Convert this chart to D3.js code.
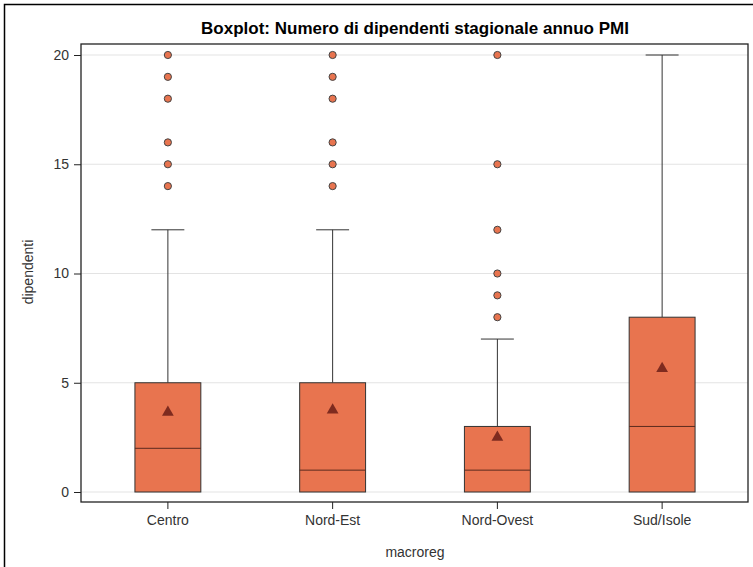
<!DOCTYPE html>
<html><head><meta charset="utf-8">
<script src="https://cdn.jsdelivr.net/npm/d3@7"></script>
<style>body{margin:0;background:#fff}svg{display:block}</style>
</head><body>
<script>
const categories = ["Centro", "Nord-Est", "Nord-Ovest", "Sud/Isole"];
const q1Values = [0, 0, 0, 0];
const medianValues = [2, 1, 1, 3];
const q3Values = [5, 5, 3, 8];
const whiskerLow = [0, 0, 0, 0];
const whiskerHigh = [12, 12, 7, 20];
const meanValues = [3.65, 3.75, 2.5, 5.65];
const outliers = [
  [14, 15, 16, 18, 19, 20],
  [14, 15, 16, 18, 19, 20],
  [8, 9, 10, 12, 15, 20],
  []
];
const yTicks = [0, 5, 10, 15, 20];

const W = 753, H = 567;
const FONT = "Arial, 'Liberation Sans', sans-serif";
const svg = d3.select("body").append("svg").attr("width", W).attr("height", H);
const fr = {l: 81, t: 44, r: 748, b: 502};
const x = d3.scaleBand().domain(categories).range([85.5, 744.5]).paddingInner(0).paddingOuter(0);
const y = d3.scaleLinear().domain([0, 20]).range([492, 55]);
const fill = "#E8744F", stroke = "#333", meanCol = "#7E2B1F";

// outer frame
svg.append("path").attr("d", `M4.5,${H} V4.5 H${W}`).attr("fill", "none").attr("stroke", "#000").attr("stroke-width", 1.5);

// grid
svg.append("g").selectAll("line").data(yTicks).join("line")
  .attr("x1", fr.l).attr("x2", fr.r).attr("y1", d => y(d)).attr("y2", d => y(d))
  .attr("stroke", "#e3e3e3").attr("stroke-width", 1);

const bw = x.bandwidth() * 0.4;
const g = svg.append("g");
categories.forEach((c, i) => {
  const cx = x(c) + x.bandwidth() / 2;
  g.append("line").attr("x1", cx).attr("x2", cx).attr("y1", y(q3Values[i])).attr("y2", y(whiskerHigh[i])).attr("stroke", stroke);
  g.append("line").attr("x1", cx - bw / 4).attr("x2", cx + bw / 4).attr("y1", y(whiskerHigh[i])).attr("y2", y(whiskerHigh[i])).attr("stroke", stroke);
  g.append("line").attr("x1", cx).attr("x2", cx).attr("y1", y(q1Values[i])).attr("y2", y(whiskerLow[i])).attr("stroke", stroke);
  g.append("rect").attr("x", cx - bw / 2).attr("width", bw)
    .attr("y", y(q3Values[i])).attr("height", y(q1Values[i]) - y(q3Values[i]))
    .attr("fill", fill).attr("stroke", stroke).attr("stroke-width", 1);
  g.append("line").attr("x1", cx - bw / 2).attr("x2", cx + bw / 2).attr("y1", y(medianValues[i])).attr("y2", y(medianValues[i])).attr("stroke", "#5a2a1e");
  g.append("path").attr("d", d3.symbol(d3.symbolTriangle, 60)())
    .attr("transform", `translate(${cx},${y(meanValues[i])})`).attr("fill", meanCol);
  g.selectAll(null).data(outliers[i]).join("circle")
    .attr("cx", cx).attr("cy", d => y(d)).attr("r", 3.6)
    .attr("fill", fill).attr("stroke", "#444").attr("stroke-width", 1);
});

// plot frame
svg.append("rect").attr("x", fr.l).attr("y", fr.t).attr("width", fr.r - fr.l).attr("height", fr.b - fr.t)
  .attr("fill", "none").attr("stroke", "#222").attr("stroke-width", 1.3);

// axes
const ya = svg.append("g").attr("transform", `translate(${fr.l},0)`)
  .call(d3.axisLeft(y).tickValues(yTicks).tickSize(7).tickPadding(5));
ya.select(".domain").remove();
ya.selectAll("line").attr("stroke", "#222");
ya.selectAll("text").attr("font-family", FONT).attr("font-size", 14).attr("fill", "#333");

const xa = svg.append("g").attr("transform", `translate(0,${fr.b})`)
  .call(d3.axisBottom(x).tickSize(7).tickPadding(6));
xa.select(".domain").remove();
xa.selectAll("line").attr("stroke", "#222");
xa.selectAll("text").attr("font-family", FONT).attr("font-size", 14).attr("fill", "#333");

// labels
svg.append("text").attr("x", 415).attr("y", 34).attr("text-anchor", "middle")
  .attr("font-family", FONT).attr("font-size", 17).attr("font-weight", "bold").attr("fill", "#000")
  .text("Boxplot: Numero di dipendenti stagionale annuo PMI");
svg.append("text").attr("x", 415).attr("y", 557).attr("text-anchor", "middle")
  .attr("font-family", FONT).attr("font-size", 14).attr("fill", "#333").text("macroreg");
svg.append("text").attr("transform", `translate(33,272) rotate(-90)`).attr("text-anchor", "middle")
  .attr("font-family", FONT).attr("font-size", 14).attr("fill", "#333").text("dipendenti");
</script>
</body></html>
